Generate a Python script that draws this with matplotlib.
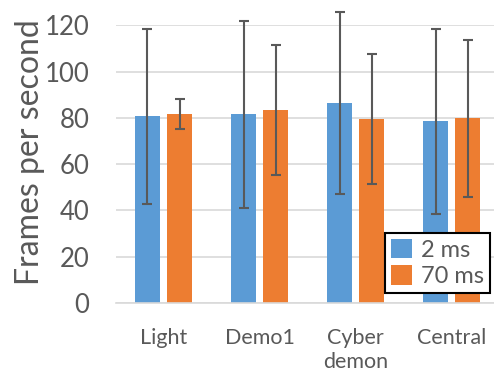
import numpy as np
import matplotlib.pyplot as plt

# data
categories = ["Light", "Demo1", "Cyber\ndemon", "Central"]
fps_2ms = [80.6, 81.5, 86.3, 78.5]
err_2ms = [38.0, 40.3, 39.4, 40.0]
fps_70ms = [81.8, 83.4, 79.5, 79.8]
err_70ms = [6.5, 28.0, 28.0, 34.0]
series_names = ["2 ms", "70 ms"]

blue = "#5b9bd5"
orange = "#ed7d31"
grey = "#595959"

plt.rcParams["font.family"] = ["Lato", "DejaVu Sans"]

fig = plt.figure(figsize=(4.94, 3.79), dpi=100)
ax = fig.add_axes([0.234, 0.2005, 0.766, 0.7327])

x = np.arange(len(categories))
w = 0.26
off = 0.168
errstyle = dict(ecolor=grey, elinewidth=1.5, capsize=3.6, capthick=1.5)

ax.bar(x - off, fps_2ms, w, color=blue, label=series_names[0], zorder=2)
ax.bar(x + off, fps_70ms, w, color=orange, label=series_names[1], zorder=2)
e1 = ax.errorbar(x - off, fps_2ms, yerr=err_2ms, fmt="none", zorder=3, **errstyle)
e2 = ax.errorbar(x + off, fps_70ms, yerr=err_70ms, fmt="none", zorder=3, **errstyle)
# caps above 120 must not be clipped
for e in (e1, e2):
    for part in list(e.lines[1]) + list(e.lines[2]):
        part.set_clip_on(False)

ax.set_ylim(0, 120)
ax.set_xlim(-0.5, 3.44)
ax.set_yticks(range(0, 121, 20))
ax.set_xticks(x)
ax.set_xticklabels(categories, linespacing=1.25)

ax.yaxis.grid(True, color="#d9d9d9", linewidth=1.2, zorder=0)
ax.set_axisbelow(True)
for s in ["top", "right", "left"]:
    ax.spines[s].set_visible(False)
ax.spines["bottom"].set_color("#d9d9d9")
ax.spines["bottom"].set_linewidth(1.2)

ax.tick_params(axis="y", length=0, pad=19, labelsize=18.5, labelcolor=grey)
ax.tick_params(axis="x", length=0, pad=18, labelsize=15.5, labelcolor=grey)

ax.set_ylabel("Frames per second", fontsize=23, color=grey)
ax.yaxis.set_label_coords(-0.186, 0.545)

leg = ax.legend(loc="lower right", bbox_to_anchor=(0.99, 0.035), fontsize=17,
                frameon=True, fancybox=False, framealpha=1,
                handlelength=0.9, handleheight=0.9, handletextpad=0.4,
                borderpad=0.25, labelspacing=0.2, borderaxespad=0)
leg.get_frame().set_edgecolor("black")
leg.get_frame().set_linewidth(1.5)
for t in leg.get_texts():
    t.set_color(grey)

fig.savefig("out.png", dpi=100)
